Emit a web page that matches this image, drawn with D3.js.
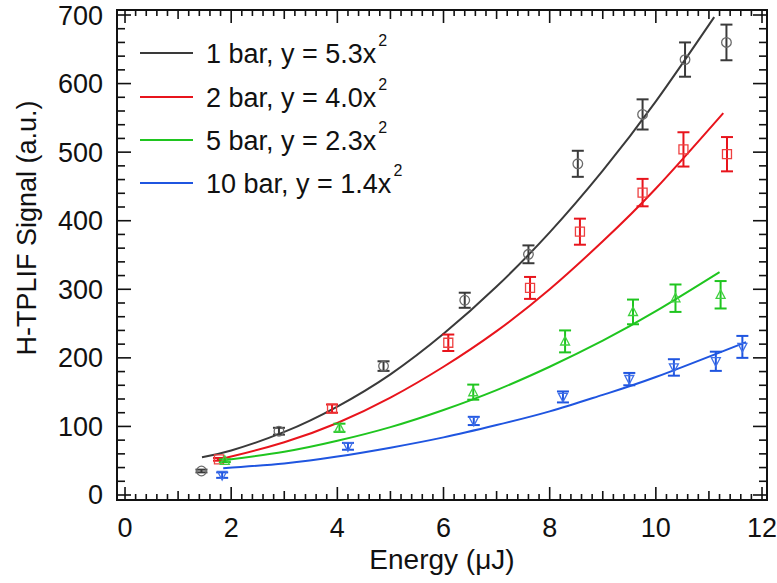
<!DOCTYPE html>
<html><head><meta charset="utf-8">
<script src="https://cdn.jsdelivr.net/npm/d3@7"></script>
<style>body{margin:0;background:#fff}text{font-family:Arial,"Liberation Sans",sans-serif;fill:#111}</style>
</head><body><svg id="c" width="777" height="583"></svg>
<script>
// ---- data ----
const seriesNames = ["1 bar", "2 bar", "5 bar", "10 bar"];
const fitCoef = ["5.3", "4.0", "2.3", "1.4"];
const colors = ["#3a3a3a", "#e8141c", "#1fc51f", "#1f55e0"];
const markerColors = ["#6a6a6a", "#ee4040", "#40d040", "#3f6fe8"];
const shapes = ["circle", "square", "triangleUp", "triangleDown"];

// measured points [energy, signal, error]
const pts1 = [[1.44,35,2],[2.9,93,5],[4.87,188,7],[6.4,284,11],[7.6,351,13],[8.53,483,19],[9.75,555,22],[10.55,635,25],[11.33,660,26]];
const pts2 = [[1.77,52,2],[3.9,126,6],[6.09,222,12],[7.63,302,16],[8.57,384,19],[9.75,441,20],[10.52,504,25],[11.34,497,25]];
const pts5 = [[1.88,50,2],[4.04,98,6],[6.56,150,11],[8.29,224,16],[9.57,267,18],[10.37,287,20],[11.22,292,20]];
const pts10 = [[1.83,29,4],[4.2,71,5],[6.57,108,6],[8.25,143,8],[9.5,169,9],[10.34,186,12],[11.13,195,14],[11.63,216,16]];

// fit curves
const fit1 = [[1.45,55],[2,65],[3,92],[4,129],[5,176],[6,235],[7,304],[8,383],[9,473],[10,574],[11.1,697]];
const fit2 = [[1.73,52],[2,56],[3,77],[4,105],[5,142],[6,187],[7,239],[8,300],[9,370],[10,447],[11.27,557]];
const fit5 = [[1.88,51],[3,63],[4,79],[5,99],[6,124],[7,153],[8,187],[9,225],[10,268],[11.2,325]];
const fit10 = [[1.85,39],[3,46],[4,56],[5,69],[6,84],[7,102],[8,122],[9,146],[10,172],[11.7,223]];

const xTicks = [0,2,4,6,8,10,12];
const yTicks = [0,100,200,300,400,500,600,700];

const points = [pts1, pts2, pts5, pts10];
const fits = [fit1, fit2, fit5, fit10];

// ---- layout ----
const L = 117, R = 767, T = 10, B = 500;
const x = d3.scaleLinear().domain([-0.151, 12.094]).range([L, R]);
const y = d3.scaleLinear().domain([-7.3, 707.3]).range([B, T]);
const svg = d3.select("#c");

// ticks
const g = svg.append("g").attr("stroke", "#111").attr("stroke-width", 1.6);
const xMinor = d3.range(0, 12.0001, 0.2).map(v => +v.toFixed(1));
xMinor.forEach(v => {
  const isMaj = Math.abs(v/2 - Math.round(v/2)) < 1e-6;
  const isMid = !isMaj && Math.abs(v - Math.round(v)) < 1e-6;
  const len = isMaj ? 13 : (isMid ? 9 : 6);
  const px = x(v);
  g.append("line").attr("x1", px).attr("x2", px).attr("y1", B).attr("y2", B - len);
  g.append("line").attr("x1", px).attr("x2", px).attr("y1", T).attr("y2", T + len);
});
const yMinor = d3.range(0, 700.001, 20);
yMinor.forEach(v => {
  const isMaj = v % 100 === 0;
  const len = isMaj ? 14 : 8;
  const py = y(v);
  g.append("line").attr("x1", L).attr("x2", L + len).attr("y1", py).attr("y2", py);
  g.append("line").attr("x1", R).attr("x2", R - len).attr("y1", py).attr("y2", py);
});

// frame
svg.append("rect").attr("x", L).attr("y", T).attr("width", R - L).attr("height", B - T)
  .attr("fill", "none").attr("stroke", "#111").attr("stroke-width", 2);

// tick labels
svg.append("g").selectAll("text").data(xTicks).join("text")
  .attr("x", d => x(d)).attr("y", 537).attr("text-anchor", "middle")
  .attr("font-size", 27).text(d => d);
svg.append("g").selectAll("text").data(yTicks).join("text")
  .attr("x", 103).attr("y", d => y(d) + 9.5).attr("text-anchor", "end")
  .attr("font-size", 27).text(d => d);

// axis titles
svg.append("text").attr("x", (L + R) / 2).attr("y", 569).attr("text-anchor", "middle")
  .attr("font-size", 28).text("Energy (μJ)");
svg.append("text").attr("transform", "translate(36,228) rotate(-90)").attr("text-anchor", "middle")
  .attr("font-size", 27).text("H-TPLIF Signal (a.u.)");

// fit lines
const line = d3.line().x(d => x(d[0])).y(d => y(d[1])).curve(d3.curveNatural);
fits.forEach((f, i) => {
  svg.append("path").attr("d", line(f)).attr("fill", "none")
    .attr("stroke", colors[i]).attr("stroke-width", 2);
});

// markers + error bars
const shapePath = {
  square: s => `M${-s},${-s}H${s}V${s}H${-s}Z`,
  triangleUp: s => `M0,${-s*1.1}L${s},${s*0.8}L${-s},${s*0.8}Z`,
  triangleDown: s => `M0,${s*1.1}L${s},${-s*0.8}L${-s},${-s*0.8}Z`
};
points.forEach((arr, i) => {
  const gg = svg.append("g");
  arr.forEach(p => {
    const px = x(p[0]), py = y(p[1]), y1 = y(p[1] + p[2]), y2 = y(p[1] - p[2]);
    gg.append("line").attr("x1", px).attr("x2", px).attr("y1", y1).attr("y2", y2)
      .attr("stroke", colors[i]).attr("stroke-width", 2);
    [y1, y2].forEach(yy => gg.append("line").attr("x1", px - 6).attr("x2", px + 6)
      .attr("y1", yy).attr("y2", yy).attr("stroke", colors[i]).attr("stroke-width", 2));
    if (shapes[i] === "circle") {
      gg.append("circle").attr("cx", px).attr("cy", py).attr("r", 4.8)
        .attr("fill", "none").attr("stroke", markerColors[i]).attr("stroke-width", 1.3);
    } else {
      gg.append("path").attr("transform", `translate(${px},${py})`)
        .attr("d", shapePath[shapes[i]](4.5))
        .attr("fill", "none").attr("stroke", markerColors[i]).attr("stroke-width", 1.3);
    }
  });
});

// legend
const legY = [53, 97, 140, 183];
seriesNames.forEach((n, i) => {
  svg.append("line").attr("x1", 140).attr("x2", 193).attr("y1", legY[i]).attr("y2", legY[i])
    .attr("stroke", colors[i]).attr("stroke-width", 2);
  const t = svg.append("text").attr("x", 206).attr("y", legY[i] + 10).attr("font-size", 27);
  t.append("tspan").text(`${n}, y = ${fitCoef[i]}x`);
  t.append("tspan").attr("font-size", 16).attr("dx", 2).attr("dy", -17).text("2");
});
</script></body></html>
